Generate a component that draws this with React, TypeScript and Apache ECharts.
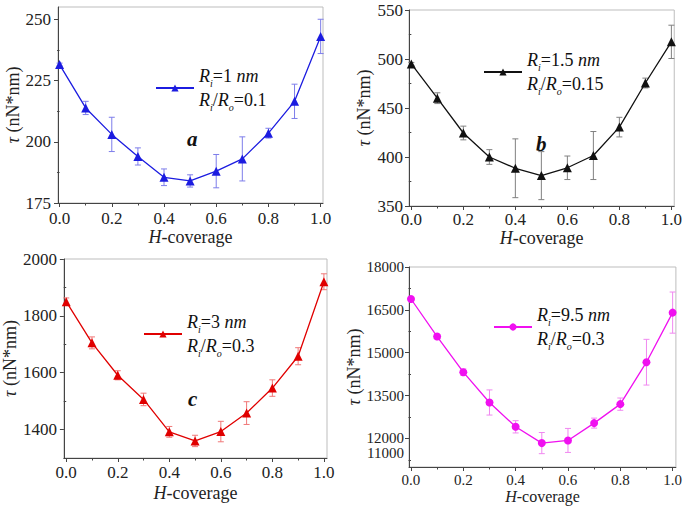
import React, { useEffect, useRef } from 'react';
import * as echarts from 'echarts';

const coverage = [0, 0.1, 0.2, 0.3, 0.4, 0.5, 0.6, 0.7, 0.8, 0.9, 1.0];
const xTickLabels = [0, 0.2, 0.4, 0.6, 0.8, 1.0];
const xMinorTicks = [0.1, 0.3, 0.5, 0.7, 0.9];

const tauA = [231.5, 213.8, 203, 194, 185.5, 184, 188, 193, 203.5, 216.5, 243];
const errA = [0.6, 2.7, 7, 3.5, 3.4, 2.5, 6.8, 9, 2, 7, 7];
const yLabelsA = [175, 200, 225, 250];
const yMinorA = [187.5, 212.5, 237.5];

const tauB = [495, 460, 424.5, 400, 388.5, 381, 389, 401.5, 430.5, 475.5, 517.5];
const errB = [1.5, 5.5, 7, 7.5, 30, 24.5, 12, 24.5, 10, 5, 17];
const yLabelsB = [350, 400, 450, 500, 550];
const yMinorB = [375, 425, 475, 525];

const tauC = [1850, 1705, 1591, 1506, 1392, 1360, 1393, 1458, 1546, 1658, 1920];
const errC = [13, 21, 16, 22, 19, 20, 36, 40, 29, 30, 28];
const yLabelsC = [1400, 1600, 1800, 2000];
const yMinorC = [1300, 1500, 1700, 1900];

const tauD = [16880, 15565, 14318, 13258, 12407, 11837, 11930, 12536, 13200, 14668, 16404];
const errD = [60, 60, 115, 440, 215, 370, 420, 175, 215, 800, 720];
const yLabelsD = [12000, 13500, 15000, 16500, 18000];
const yExtraLabelD = [11000];
const yMinorD = [11250, 12750, 14250, 15750, 17250];

const legendA = ['1 ', '0.1'];
const legendB = ['1.5 ', '0.15'];
const legendC = ['3 ', '0.3'];
const legendD = ['9.5 ', '0.3'];

const FONT = 'Liberation Serif';

const panels = [
  {
    name: 'A', tau: tauA, err: errA, legend: legendA, color: '#1c1ce0', errColor: '#7d7dea', symbol: 'triangle',
    grid: { left: 58, top: 7, width: 265, height: 196 }, xRange: [-0.006, 1.009], yRange: [175, 255],
    yLabels: yLabelsA, yMinor: yMinorA, yExtra: [] as number[], fs: 17, lh: 20, xMargin: 7, yMargin: 7, yNameGap: 36, xNameGap: 24,
    legendPos: { left: 155, top: 67 },
  },
  {
    name: 'B', tau: tauB, err: errB, legend: legendB, color: '#111111', errColor: '#808080', symbol: 'triangle',
    grid: { left: 409, top: 8, width: 267, height: 198 }, xRange: [-0.009, 1.011], yRange: [350, 550],
    yLabels: yLabelsB, yMinor: yMinorB, yExtra: [] as number[], fs: 17, lh: 20, xMargin: 5, yMargin: 6, yNameGap: 36, xNameGap: 21,
    legendPos: { left: 483, top: 51 },
  },
  {
    name: 'C', tau: tauC, err: errC, legend: legendC, color: '#e00000', errColor: '#f07878', symbol: 'triangle',
    grid: { left: 59, top: 259, width: 268, height: 199 }, xRange: [-0.009, 1.012], yRange: [1300, 2000],
    yLabels: yLabelsC, yMinor: yMinorC, yExtra: [] as number[], fs: 17, lh: 20, xMargin: 6, yMargin: 7, yNameGap: 36, xNameGap: 26,
    legendPos: { left: 143, top: 313 },
  },
  {
    name: 'D', tau: tauD, err: errD, legend: legendD, color: '#f010f0', errColor: '#f088f0', symbol: 'circle',
    grid: { left: 409, top: 267, width: 269, height: 200 }, xRange: [-0.0076, 1.0125], yRange: [11000, 18000],
    yLabels: yLabelsD, yMinor: yMinorD, yExtra: yExtraLabelD, fs: 15, lh: 13, xMargin: 5, yMargin: 5, yNameGap: 46, xNameGap: 21,
    legendPos: { left: 493, top: 306 },
  },
];

function legendRich(fs: number) {
  const base = { fontFamily: FONT, fontSize: fs, lineHeight: 24, color: '#111' };
  return {
    r: { ...base, fontStyle: 'italic' },
    n: { ...base },
    s: { fontFamily: FONT, fontSize: 10, fontStyle: 'italic', color: '#111', verticalAlign: 'bottom', lineHeight: 12 },
  };
}

export default function App() {
  const ref = useRef<HTMLDivElement>(null);
  useEffect(() => {
    if (!ref.current) return;
    const chart = echarts.init(ref.current, undefined, { renderer: 'svg' });
    const grids: any[] = [];
    const xAxes: any[] = [];
    const yAxes: any[] = [];
    const series: any[] = [];
    const legends: any[] = [];

    panels.forEach((p, i) => {
      grids.push({ ...p.grid, show: true, borderColor: '#bdbdbd', borderWidth: 1, containLabel: false });
      const axisLine = { show: true, onZero: false, lineStyle: { color: '#444', width: 1 } };
      xAxes.push({
        type: 'value', gridIndex: i, min: p.xRange[0], max: p.xRange[1], position: 'bottom',
        axisLine, splitLine: { show: false },
        axisTick: { show: true, inside: false, length: 4, customValues: xTickLabels, lineStyle: { color: '#444' } },
        axisLabel: {
          show: true, customValues: xTickLabels, margin: p.xMargin, fontFamily: FONT, fontSize: p.fs, color: '#222',
          formatter: (v: number) => v.toFixed(1),
        },
        name: '{i|H}-coverage', nameLocation: 'middle', nameGap: p.xNameGap,
        nameTextStyle: { fontFamily: FONT, fontSize: p.fs + 1, color: '#222', rich: { i: { fontFamily: FONT, fontSize: p.fs + 1, fontStyle: 'italic', color: '#222' } } },
      });
      xAxes.push({
        type: 'value', gridIndex: i, min: p.xRange[0], max: p.xRange[1], position: 'bottom',
        axisLine: { show: false }, splitLine: { show: false }, axisLabel: { show: false },
        axisTick: { show: true, inside: false, length: 2.5, customValues: xMinorTicks, lineStyle: { color: '#444' } },
      });
      yAxes.push({
        type: 'value', gridIndex: i, min: p.yRange[0], max: p.yRange[1], position: 'left',
        axisLine, splitLine: { show: false },
        axisTick: { show: true, inside: false, length: 4, customValues: p.yLabels, lineStyle: { color: '#444' } },
        axisLabel: {
          show: true, customValues: p.yLabels, margin: p.yMargin, fontFamily: FONT, fontSize: p.fs, lineHeight: p.lh, color: '#222',
          formatter: (v: number) => String(v),
        },
        name: '{i|τ} (nN*nm)', nameLocation: 'middle', nameGap: p.yNameGap,
        nameTextStyle: { fontFamily: FONT, fontSize: 18, color: '#222', rich: { i: { fontFamily: FONT, fontSize: 18, fontStyle: 'italic', color: '#222' } } },
      });
      yAxes.push({
        type: 'value', gridIndex: i, min: p.yRange[0], max: p.yRange[1], position: 'left',
        axisLine: { show: false }, splitLine: { show: false },
        axisLabel: {
          show: p.yExtra.length > 0, customValues: p.yExtra, margin: p.yMargin, fontFamily: FONT, fontSize: p.fs, color: '#222',
          showMinLabel: true,
          formatter: (v: number) => '{up|' + v + '}',
          rich: { up: { fontFamily: FONT, fontSize: p.fs, lineHeight: p.lh, color: '#222', padding: [0, 0, 28, 0] } },
        },
        axisTick: { show: true, inside: false, length: 2.5, customValues: p.yMinor, lineStyle: { color: '#444' } },
      });

      const errColor = p.errColor;
      series.push({
        type: 'custom', name: p.name + '-err', xAxisIndex: i * 2, yAxisIndex: i * 2, z: 1,
        data: coverage.map((x, k) => [x, p.tau[k] - p.err[k], p.tau[k] + p.err[k]]),
        encode: { x: 0, y: [1, 2] },
        renderItem: (params: any, api: any) => {
          const x = api.value(0);
          const top = api.coord([x, api.value(2)]);
          const bot = api.coord([x, api.value(1)]);
          const w = 3;
          const style = { stroke: errColor, lineWidth: 1 };
          return {
            type: 'group',
            children: [
              { type: 'line', shape: { x1: top[0], y1: top[1], x2: bot[0], y2: bot[1] }, style },
              { type: 'line', shape: { x1: top[0] - w, y1: top[1], x2: top[0] + w, y2: top[1] }, style },
              { type: 'line', shape: { x1: bot[0] - w, y1: bot[1], x2: bot[0] + w, y2: bot[1] }, style },
            ],
          };
        },
      });
      series.push({
        type: 'line', name: p.name, xAxisIndex: i * 2, yAxisIndex: i * 2, z: 3,
        data: coverage.map((x, k) => [x, p.tau[k]]),
        symbol: p.symbol, symbolSize: p.symbol === 'circle' ? 8 : 9, showSymbol: true,
        lineStyle: { color: p.color, width: 1.3 }, itemStyle: { color: p.color },
      });
      const [v1, v2] = p.legend;
      legends.push({
        data: [p.name], left: p.legendPos.left, top: p.legendPos.top, padding: 0,
        itemWidth: 38, itemHeight: 9, itemGap: 5, selectedMode: false,
        formatter: () => `{r|R}{s|i}{n|=${v1}}{r|nm}\n{r|R}{s|i}{n|/}{r|R}{s|o}{n|=${v2}}`,
        textStyle: { fontFamily: FONT, fontSize: 18, color: '#111', rich: legendRich(18) },
      });
    });

    const tagStyle = { fontFamily: FONT, fontSize: 21, fontWeight: 'bold', fontStyle: 'italic', fill: '#111' };
    chart.setOption({
      animation: false,
      backgroundColor: '#ffffff',
      textStyle: { fontFamily: FONT },
      grid: grids,
      xAxis: xAxes,
      yAxis: yAxes,
      legend: legends,
      series,
      graphic: [
        { type: 'text', left: 187, top: 128, style: { ...tagStyle, text: 'a' } },
        { type: 'text', left: 536, top: 133, style: { ...tagStyle, text: 'b' } },
        { type: 'text', left: 188, top: 388, style: { ...tagStyle, text: 'c' } },
      ],
    });
    return () => chart.dispose();
  }, []);
  return <div ref={ref} style={{ position: 'fixed', left: 0, top: 0, width: 685, height: 508 }} />;
}
